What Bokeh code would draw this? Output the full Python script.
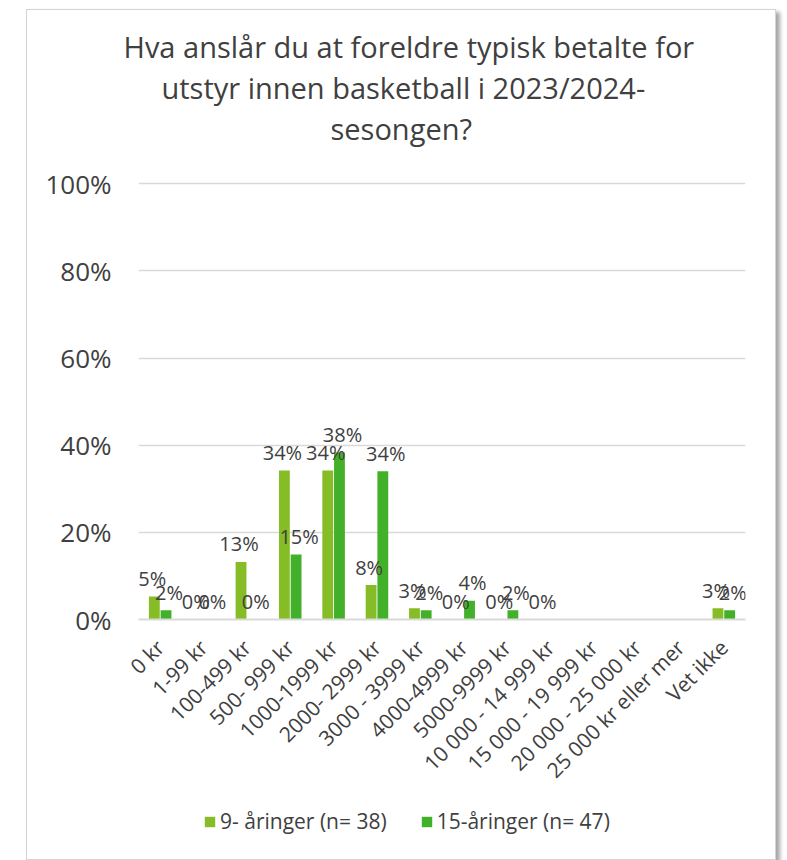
import math
from bokeh.plotting import figure
from bokeh.layouts import column
from bokeh.models import (ColumnDataSource, FactorRange, Range1d, NumeralTickFormatter,
                          Legend, LegendItem, Title, FixedTicker)
from bokeh.transform import dodge
from bokeh.embed import file_html
from bokeh.resources import INLINE
from bokeh.core.properties import value

# ---------------- data ----------------
categories = ["0 kr", "1-99 kr", "100-499 kr", "500- 999 kr", "1000-1999 kr",
              "2000- 2999 kr", "3000 - 3999 kr", "4000-4999 kr", "5000-9999 kr",
              "10 000 - 14 999 kr", "15 000 - 19 999 kr", "20 000 - 25 000 kr",
              "25 000 kr eller mer", "Vet ikke"]
series_names = ["9- åringer (n= 38)", "15-åringer (n= 47)"]
age9 = [0.053, 0.0, 0.132, 0.342, 0.342, 0.079, 0.026, 0.0, 0.0, 0.0,
        None, None, None, 0.026]
age15 = [0.021, 0.0, 0.0, 0.149, 0.383, 0.340, 0.021, 0.043, 0.021, None,
         None, None, None, 0.021]
y_ticks = [0, 0.2, 0.4, 0.6, 0.8, 1.0]
title_lines = ["Hva anslår du at foreldre typisk betalte for",
               "utstyr innen basketball i 2023/2024-",
               "sesongen?"]

colors = ["#86BC25", "#43B02A"]
FONT = "Open Sans"
TXT = "#404040"

def nz(v):
    return float("nan") if v is None else v

src = ColumnDataSource(dict(cat=categories,
                            a9=[nz(v) for v in age9],
                            a15=[nz(v) for v in age15]))

def label_src(vals):
    c, y, t = [], [], []
    for cat, v in zip(categories, vals):
        if v is not None:
            c.append(cat); y.append(v); t.append(f"{round(v * 100)}%")
    return ColumnDataSource(dict(cat=c, y=y, t=t))

p = figure(width=748, height=790, x_range=FactorRange(factors=categories, range_padding=0),
           y_range=Range1d(0, 1.005), output_backend="svg", toolbar_location=None,
           min_border_left=111, min_border_right=30, min_border_top=171,
           min_border_bottom=181)
p.outline_line_color = None
p.background_fill_color = "white"
p.border_fill_color = "white"

off = 0.135
bw = 0.25
r1 = p.vbar(x=dodge("cat", -off, range=p.x_range), top="a9", width=bw, source=src,
            fill_color=colors[0], line_color=None)
r2 = p.vbar(x=dodge("cat", off, range=p.x_range), top="a15", width=bw, source=src,
            fill_color=colors[1], line_color=None)

for vals, o, xo in ((age9, -off, -2), (age15, off, 3)):
    p.text(x=dodge("cat", o, range=p.x_range), y="y", text="t", source=label_src(vals),
           text_font=value(FONT), text_font_size="20px", text_color=TXT,
           text_align="center", text_baseline="alphabetic", y_offset=-18, x_offset=xo)

# axes
p.yaxis.ticker = FixedTicker(ticks=y_ticks)
p.yaxis.formatter = NumeralTickFormatter(format="0%")
p.yaxis.axis_line_color = None
p.yaxis.major_tick_line_color = None
p.yaxis.minor_tick_line_color = None
p.yaxis.major_label_text_font = FONT
p.yaxis.major_label_text_font_size = "26px"
p.yaxis.major_label_text_color = TXT
p.yaxis.major_label_standoff = 21

p.xaxis.axis_line_color = "#d9d9d9"
p.xaxis.axis_line_width = 2
p.xaxis.major_tick_line_color = None
p.xaxis.minor_tick_line_color = None
p.xaxis.major_label_orientation = math.pi / 4
p.xaxis.major_label_text_font = FONT
p.xaxis.major_label_text_font_size = "21px"
p.xaxis.major_label_text_color = TXT
p.xaxis.major_label_standoff = 18

p.xgrid.visible = False
p.ygrid.ticker = FixedTicker(ticks=y_ticks)
p.ygrid.grid_line_color = "#d9d9d9"
p.ygrid.grid_line_width = 1.5

# title: spacer nearest the frame, then lines from bottom to top
p.add_layout(Title(text=" ", text_font_size="1px", standoff=31), "above")
title_offsets = [-15, 23, 192]
for line, o in reversed(list(zip(title_lines, title_offsets))):
    p.add_layout(Title(text=line, align="left", offset=o, standoff=0,
                       text_font=FONT, text_font_size="29px", text_color=TXT,
                       text_font_style="normal"), "above")

# legend in its own strip (below the axis labels); frame aligned with the chart's frame
leg = figure(width=748, height=59, x_range=Range1d(0, 1), y_range=Range1d(0, 1),
             x_axis_type=None, y_axis_type=None, output_backend="svg",
             toolbar_location=None, min_border=0)
leg.outline_line_color = None
leg.xgrid.visible = False
leg.ygrid.visible = False
d1 = leg.vbar(x=[-5], top=[0], width=0.1, fill_color=colors[0], line_color=None)
d2 = leg.vbar(x=[-5], top=[0], width=0.1, fill_color=colors[1], line_color=None)
legend = Legend(items=[LegendItem(label=series_names[0], renderers=[d1]),
                       LegendItem(label=series_names[1], renderers=[d2])],
                orientation="horizontal", location=(65, 24),
                glyph_width=13, glyph_height=13, label_standoff=4, spacing=33,
                padding=0, margin=0, border_line_color=None, background_fill_alpha=0,
                label_text_font=FONT, label_text_font_size="21px", label_text_color=TXT)
leg.add_layout(legend)

layout = column(p, leg, spacing=0)
layout.styles = {"border": "1px solid #d4d4d4",
                 "box-shadow": "4px 3px 4px rgba(0,0,0,0.35)",
                 "margin-left": "26px", "margin-top": "9px"}

open("out.html", "w").write(file_html(layout, INLINE))
